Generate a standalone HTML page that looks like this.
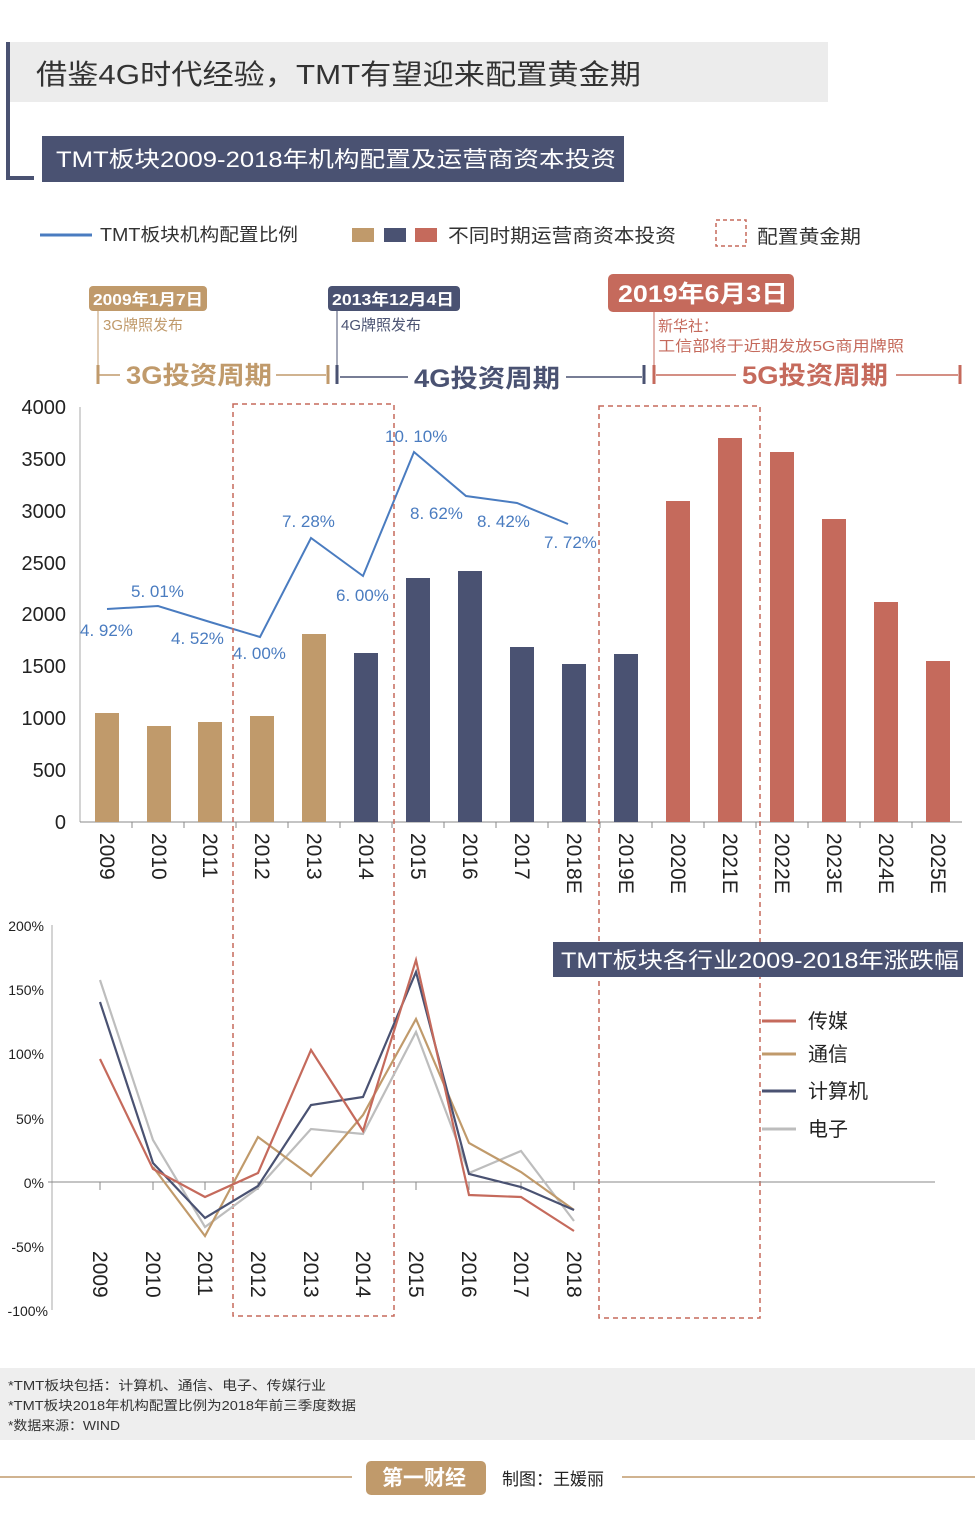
<!DOCTYPE html>
<html><head><meta charset="utf-8"><style>
body{margin:0;background:#fff;}
svg{display:block;font-family:"Liberation Sans","Noto Sans CJK SC",sans-serif;}
</style></head><body>
<svg width="975" height="1514" viewBox="0 0 975 1514" xmlns="http://www.w3.org/2000/svg">
<rect width="975" height="1514" fill="#fff"/>
<!-- header -->
<rect x="10" y="42" width="818" height="60" fill="#ececec"/>
<path d="M8 42 V178 H34" stroke="#4a5272" stroke-width="4" fill="none"/>
<text x="36" y="84" font-size="28" fill="#333" textLength="605" lengthAdjust="spacingAndGlyphs">借鉴4G时代经验，TMT有望迎来配置黄金期</text>
<rect x="42" y="136" width="582" height="46" fill="#4a5272"/>
<text x="56" y="167" font-size="22" fill="#fff" textLength="560" lengthAdjust="spacingAndGlyphs">TMT板块2009-2018年机构配置及运营商资本投资</text>
<!-- legend -->
<line x1="40" y1="235" x2="92" y2="235" stroke="#4a7cc0" stroke-width="3"/>
<text x="100" y="241" font-size="18" fill="#333" textLength="198" lengthAdjust="spacingAndGlyphs">TMT板块机构配置比例</text>
<rect x="352" y="228" width="22" height="14" fill="#c09a6b"/>
<rect x="384" y="228" width="22" height="14" fill="#4a5272"/>
<rect x="415" y="228" width="22" height="14" fill="#c56a5c"/>
<text x="448" y="242" font-size="19" fill="#333" textLength="228" lengthAdjust="spacingAndGlyphs">不同时期运营商资本投资</text>
<rect x="716" y="220" width="30" height="26" fill="none" stroke="#c56a5c" stroke-dasharray="4,3" stroke-width="1.5"/>
<text x="757" y="243" font-size="19" fill="#333" textLength="104" lengthAdjust="spacingAndGlyphs">配置黄金期</text>
<!-- timeline -->
<rect x="89" y="286" width="118" height="25" rx="4" fill="#c09a6b"/>
<text x="93" y="305" font-size="16" font-weight="bold" fill="#fff" textLength="110" lengthAdjust="spacingAndGlyphs">2009年1月7日</text>
<line x1="98" y1="311" x2="98" y2="384" stroke="#c09a6b" stroke-width="1"/>
<text x="103" y="330" font-size="15" fill="#c09a6b">3G牌照发布</text>
<rect x="328" y="286" width="132" height="25" rx="4" fill="#4a5272"/>
<text x="332" y="305" font-size="16" font-weight="bold" fill="#fff" textLength="122" lengthAdjust="spacingAndGlyphs">2013年12月4日</text>
<line x1="337" y1="311" x2="337" y2="384" stroke="#4a5272" stroke-width="1"/>
<text x="341" y="330" font-size="15" fill="#4a5272">4G牌照发布</text>
<rect x="608" y="274" width="186" height="38" rx="5" fill="#c56a5c"/>
<text x="618" y="302" font-size="24" font-weight="bold" fill="#fff" textLength="170" lengthAdjust="spacingAndGlyphs">2019年6月3日</text>
<line x1="654" y1="312" x2="654" y2="384" stroke="#c56a5c" stroke-width="1"/>
<text x="658" y="331" font-size="15" fill="#c56a5c">新华社：</text>
<text x="658" y="351" font-size="15" fill="#c56a5c" textLength="246" lengthAdjust="spacingAndGlyphs">工信部将于近期发放5G商用牌照</text>
<g stroke-width="1.5">
<line x1="98" y1="375" x2="120" y2="375" stroke="#c09a6b"/>
<line x1="276" y1="375" x2="326" y2="375" stroke="#c09a6b"/>
<line x1="98" y1="365" x2="98" y2="384" stroke="#c09a6b" stroke-width="3"/>
<line x1="328" y1="365" x2="328" y2="384" stroke="#c09a6b" stroke-width="3"/>
<line x1="337" y1="365" x2="337" y2="384" stroke="#4a5272" stroke-width="3"/>
<line x1="340" y1="377" x2="408" y2="377" stroke="#4a5272"/>
<line x1="566" y1="377" x2="642" y2="377" stroke="#4a5272"/>
<line x1="644" y1="365" x2="644" y2="384" stroke="#4a5272" stroke-width="3"/>
<line x1="654" y1="365" x2="654" y2="384" stroke="#c56a5c" stroke-width="3"/>
<line x1="656" y1="375" x2="736" y2="375" stroke="#c56a5c"/>
<line x1="896" y1="375" x2="958" y2="375" stroke="#c56a5c"/>
<line x1="960" y1="365" x2="960" y2="384" stroke="#c56a5c" stroke-width="3"/>
</g>
<text x="126" y="384" font-size="25" font-weight="bold" fill="#c09a6b" textLength="146" lengthAdjust="spacingAndGlyphs">3G投资周期</text>
<text x="414" y="387" font-size="25" font-weight="bold" fill="#4a5272" textLength="146" lengthAdjust="spacingAndGlyphs">4G投资周期</text>
<text x="742" y="384" font-size="25" font-weight="bold" fill="#c56a5c" textLength="146" lengthAdjust="spacingAndGlyphs">5G投资周期</text>
<!-- upper chart axes -->
<line x1="80" y1="407" x2="80" y2="822" stroke="#aaa"/>
<line x1="80" y1="822" x2="962" y2="822" stroke="#888"/>
<g font-size="20" fill="#222" text-anchor="end">
<text x="66" y="414">4000</text><text x="66" y="466">3500</text><text x="66" y="518">3000</text><text x="66" y="570">2500</text><text x="66" y="621">2000</text><text x="66" y="673">1500</text><text x="66" y="725">1000</text><text x="66" y="777">500</text><text x="66" y="829">0</text>
</g>
<g>
<rect x="95" y="713" width="24" height="109" fill="#c09a6b"/>
<rect x="147" y="726" width="24" height="96" fill="#c09a6b"/>
<rect x="198" y="722" width="24" height="100" fill="#c09a6b"/>
<rect x="250" y="716" width="24" height="106" fill="#c09a6b"/>
<rect x="302" y="634" width="24" height="188" fill="#c09a6b"/>
<rect x="354" y="653" width="24" height="169" fill="#4a5272"/>
<rect x="406" y="578" width="24" height="244" fill="#4a5272"/>
<rect x="458" y="571" width="24" height="251" fill="#4a5272"/>
<rect x="510" y="647" width="24" height="175" fill="#4a5272"/>
<rect x="562" y="664" width="24" height="158" fill="#4a5272"/>
<rect x="614" y="654" width="24" height="168" fill="#4a5272"/>
<rect x="666" y="501" width="24" height="321" fill="#c56a5c"/>
<rect x="718" y="438" width="24" height="384" fill="#c56a5c"/>
<rect x="770" y="452" width="24" height="370" fill="#c56a5c"/>
<rect x="822" y="519" width="24" height="303" fill="#c56a5c"/>
<rect x="874" y="602" width="24" height="220" fill="#c56a5c"/>
<rect x="926" y="661" width="24" height="161" fill="#c56a5c"/>
</g>
<g stroke="#888">
<line x1="132" y1="822" x2="132" y2="828"/><line x1="184" y1="822" x2="184" y2="828"/><line x1="236" y1="822" x2="236" y2="828"/><line x1="288" y1="822" x2="288" y2="828"/><line x1="340" y1="822" x2="340" y2="828"/><line x1="392" y1="822" x2="392" y2="828"/><line x1="444" y1="822" x2="444" y2="828"/><line x1="496" y1="822" x2="496" y2="828"/><line x1="548" y1="822" x2="548" y2="828"/><line x1="600" y1="822" x2="600" y2="828"/><line x1="652" y1="822" x2="652" y2="828"/><line x1="704" y1="822" x2="704" y2="828"/><line x1="756" y1="822" x2="756" y2="828"/><line x1="808" y1="822" x2="808" y2="828"/><line x1="860" y1="822" x2="860" y2="828"/><line x1="912" y1="822" x2="912" y2="828"/>
</g>
<g font-size="21" fill="#222">
<text transform="translate(100,833) rotate(90)">2009</text>
<text transform="translate(152,833) rotate(90)">2010</text>
<text transform="translate(203,833) rotate(90)">2011</text>
<text transform="translate(255,833) rotate(90)">2012</text>
<text transform="translate(307,833) rotate(90)">2013</text>
<text transform="translate(359,833) rotate(90)">2014</text>
<text transform="translate(411,833) rotate(90)">2015</text>
<text transform="translate(463,833) rotate(90)">2016</text>
<text transform="translate(515,833) rotate(90)">2017</text>
<text transform="translate(567,833) rotate(90)">2018E</text>
<text transform="translate(619,833) rotate(90)">2019E</text>
<text transform="translate(671,833) rotate(90)">2020E</text>
<text transform="translate(723,833) rotate(90)">2021E</text>
<text transform="translate(775,833) rotate(90)">2022E</text>
<text transform="translate(827,833) rotate(90)">2023E</text>
<text transform="translate(879,833) rotate(90)">2024E</text>
<text transform="translate(931,833) rotate(90)">2025E</text>
</g>
<polyline points="107,609 158,606 210,622 260,637 311,538 363,576 414,452 466,496 517,503 568,524" fill="none" stroke="#4a7cc0" stroke-width="2"/>
<g font-size="17" fill="#4a7cc0">
<text x="80" y="636">4. 92%</text><text x="131" y="597">5. 01%</text><text x="171" y="644">4. 52%</text><text x="233" y="659">4. 00%</text><text x="282" y="527">7. 28%</text><text x="336" y="601">6. 00%</text><text x="385" y="442">10. 10%</text><text x="410" y="519">8. 62%</text><text x="477" y="527">8. 42%</text><text x="544" y="548">7. 72%</text>
</g>
<!-- dashed boxes -->
<rect x="233" y="404" width="161" height="912" fill="none" stroke="#c56a5c" stroke-width="1.5" stroke-dasharray="5,4"/>
<rect x="599" y="406" width="161" height="912" fill="none" stroke="#c56a5c" stroke-width="1.5" stroke-dasharray="5,4"/>
<!-- lower chart -->
<line x1="52" y1="925" x2="52" y2="1310" stroke="#aaa"/>
<line x1="48" y1="1182" x2="935" y2="1182" stroke="#888"/>
<g font-size="14" fill="#222" text-anchor="end">
<text x="44" y="931">200%</text><text x="44" y="995">150%</text><text x="44" y="1059">100%</text><text x="44" y="1124">50%</text><text x="44" y="1188">0%</text><text x="44" y="1252">-50%</text><text x="48" y="1316">-100%</text>
</g>
<g stroke="#888">
<line x1="100" y1="1182" x2="100" y2="1190"/><line x1="153" y1="1182" x2="153" y2="1190"/><line x1="205" y1="1182" x2="205" y2="1190"/><line x1="258" y1="1182" x2="258" y2="1190"/><line x1="311" y1="1182" x2="311" y2="1190"/><line x1="363" y1="1182" x2="363" y2="1190"/><line x1="416" y1="1182" x2="416" y2="1190"/><line x1="469" y1="1182" x2="469" y2="1190"/><line x1="521" y1="1182" x2="521" y2="1190"/><line x1="574" y1="1182" x2="574" y2="1190"/>
</g>
<g font-size="21" fill="#222">
<text transform="translate(93,1251) rotate(90)">2009</text>
<text transform="translate(146,1251) rotate(90)">2010</text>
<text transform="translate(198,1251) rotate(90)">2011</text>
<text transform="translate(251,1251) rotate(90)">2012</text>
<text transform="translate(304,1251) rotate(90)">2013</text>
<text transform="translate(356,1251) rotate(90)">2014</text>
<text transform="translate(409,1251) rotate(90)">2015</text>
<text transform="translate(462,1251) rotate(90)">2016</text>
<text transform="translate(514,1251) rotate(90)">2017</text>
<text transform="translate(567,1251) rotate(90)">2018</text>
</g>
<g fill="none" stroke-width="2.2">
<polyline stroke="#bdbdbd" points="100,980 153,1140 205,1227 258,1188 311,1129 363,1134 416,1032 469,1173 521,1151 574,1221"/>
<polyline stroke="#c09a6b" points="153,1167 205,1236 258,1137 311,1176 363,1115 416,1019 469,1143 521,1172 574,1210"/>
<polyline stroke="#4a5272" points="100,1002 153,1163 205,1218 258,1186 311,1105 363,1097 416,972 469,1174 521,1187 574,1210"/>
<polyline stroke="#c56a5c" points="100,1059 153,1169 205,1197 258,1173 311,1050 363,1131 416,960 469,1195 521,1197 574,1231"/>
</g>
<rect x="553" y="942" width="410" height="35" fill="#4a5272"/>
<text x="561" y="968" font-size="22" fill="#fff" textLength="398" lengthAdjust="spacingAndGlyphs">TMT板块各行业2009-2018年涨跌幅</text>
<g stroke-width="3">
<line x1="762" y1="1021" x2="796" y2="1021" stroke="#c56a5c"/>
<line x1="762" y1="1054" x2="796" y2="1054" stroke="#c09a6b"/>
<line x1="762" y1="1091" x2="796" y2="1091" stroke="#4a5272"/>
<line x1="762" y1="1129" x2="796" y2="1129" stroke="#bdbdbd"/>
</g>
<g font-size="20" fill="#222">
<text x="808" y="1028">传媒</text><text x="808" y="1061">通信</text><text x="808" y="1098">计算机</text><text x="808" y="1136">电子</text>
</g>
<!-- footer -->
<rect x="0" y="1368" width="975" height="72" fill="#eeeeee"/>
<g font-size="13" fill="#333">
<text x="8" y="1390" textLength="318" lengthAdjust="spacingAndGlyphs">*TMT板块包括：计算机、通信、电子、传媒行业</text>
<text x="8" y="1410" textLength="348" lengthAdjust="spacingAndGlyphs">*TMT板块2018年机构配置比例为2018年前三季度数据</text>
<text x="8" y="1430" textLength="112" lengthAdjust="spacingAndGlyphs">*数据来源：WIND</text>
</g>
<line x1="0" y1="1477" x2="352" y2="1477" stroke="#c09a6b" stroke-width="1.5"/>
<line x1="622" y1="1477" x2="975" y2="1477" stroke="#c09a6b" stroke-width="1.5"/>
<rect x="366" y="1461" width="120" height="34" rx="5" fill="#c09a6b"/>
<text x="382" y="1485" font-size="21" font-weight="bold" fill="#fff">第一财经</text>
<text x="502" y="1485" font-size="17" fill="#222">制图：王媛丽</text>
</svg>
</body></html>
